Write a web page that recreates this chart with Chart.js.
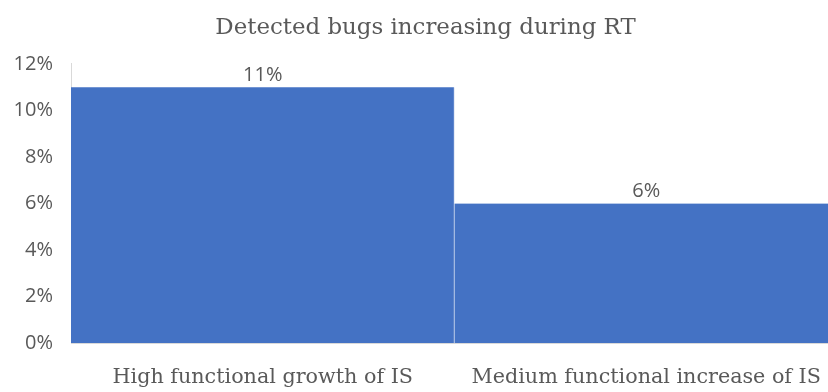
<!DOCTYPE html>
<html><head><meta charset="utf-8">
<script src="https://cdn.jsdelivr.net/npm/chart.js@4/dist/chart.umd.min.js"></script>
<style>html,body{margin:0;padding:0;background:#fff;overflow:hidden}#wrap{width:828px;height:392px;overflow:hidden;position:relative}canvas{display:block}</style>
</head><body><div id="wrap"><canvas id="c" width="850" height="392"></canvas></div>
<script>
const categories = ["High functional growth of IS", "Medium functional increase of IS"];
const values = [11, 6];
const yTicks = [0, 2, 4, 6, 8, 10, 12];
const titleText = "Detected bugs increasing during RT";

const SERIF = '"DejaVu Serif", "Liberation Serif", serif';
const SANS = '"Open Sans", "Liberation Sans", sans-serif';

// pick font sizes so that text widths match the reference
function fitSize(text, family, targetWidth) {
  const m = document.createElement('canvas').getContext('2d');
  m.font = '20px ' + family;
  return Math.round(20 * targetWidth / m.measureText(text).width * 10) / 10;
}
const titleSize = fitSize(titleText, SERIF, 420);
const catSize = fitSize(categories[0], SERIF, 300);
const tickSize = 20;

const titleLH = titleSize * 1.2;
const catLH = catSize * 1.2;
const titlePadTop = Math.max(0, 28 - titleLH / 2);
const titlePadBottom = 64 - titlePadTop - titleLH;
const catPad = 378 - 343 - catLH / 2;

const labelPlugin = {
  id: 'valLabels',
  afterDatasetsDraw(chart) {
    const ctx = chart.ctx;
    const meta = chart.getDatasetMeta(0);
    ctx.save();
    ctx.font = tickSize + 'px ' + SANS;
    ctx.fillStyle = '#595959';
    ctx.textAlign = 'center';
    ctx.textBaseline = 'middle';
    meta.data.forEach((bar, i) => {
      ctx.fillText(values[i] + '%', bar.x, bar.y - 12);
    });
    ctx.restore();
  }
};

new Chart(document.getElementById('c'), {
  type: 'bar',
  data: {
    labels: categories,
    datasets: [{
      data: values,
      backgroundColor: '#4472C4',
      borderColor: '#dce4f2',
      borderWidth: {left: 0, right: 1, top: 0, bottom: 0},
      borderSkipped: false,
      categoryPercentage: 1.0,
      barPercentage: 1.0
    }]
  },
  options: {
    responsive: false,
    animation: false,
    devicePixelRatio: 1,
    layout: {padding: {left: 13, right: 12, top: 0, bottom: 0}},
    plugins: {
      legend: {display: false},
      tooltip: {enabled: false},
      title: {
        display: true,
        text: titleText,
        color: '#595959',
        font: {family: SERIF, size: titleSize, weight: 'normal', lineHeight: 1.2},
        padding: {top: titlePadTop, bottom: titlePadBottom}
      }
    },
    scales: {
      x: {
        grid: {display: false, drawTicks: false},
        border: {display: true, color: '#d9d9d9'},
        afterFit(scale) { scale.height = 392 - 343; scale.paddingLeft = 0; scale.paddingRight = 0; },
        ticks: {
          color: '#595959',
          font: {family: SERIF, size: catSize, lineHeight: 1.2},
          padding: catPad,
          maxRotation: 0,
          autoSkip: false
        }
      },
      y: {
        min: 0, max: 12,
        afterBuildTicks(axis) { axis.ticks = yTicks.map(v => ({value: v})); },
        afterFit(scale) { scale.width = 71 - 13; scale.paddingTop = 0; scale.paddingBottom = 0; },
        grid: {display: false, drawTicks: false},
        border: {display: true, color: '#d9d9d9'},
        ticks: {
          color: '#595959',
          font: {family: SANS, size: tickSize},
          padding: 18,
          callback: v => v + '%'
        }
      }
    }
  },
  plugins: [labelPlugin]
});
</script></body></html>
